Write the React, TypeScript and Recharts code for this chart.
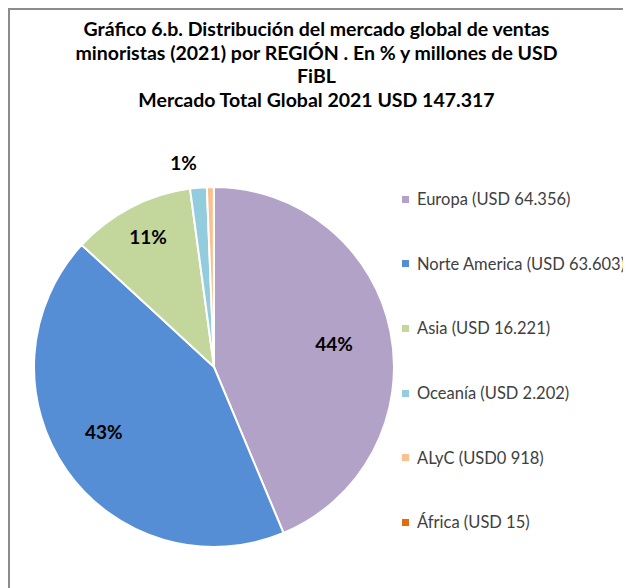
import React from "react";
import { PieChart, Pie, Cell, Legend } from "recharts";

const regions = ["Europa", "Norte America", "Asia", "Oceanía", "ALyC", "África"];
const values = [64356, 63603, 16221, 2202, 918, 15];
const legendLabels = [
  "Europa (USD 64.356)",
  "Norte America (USD 63.603)",
  "Asia (USD 16.221)",
  "Oceanía (USD 2.202)",
  "ALyC (USD0 918)",
  "África (USD 15)",
];
const colors = ["#b3a2c7", "#558ed5", "#c3d69b", "#93cddd", "#fac090", "#e46c0a"];
const titleLines = [
  "Gráfico 6.b. Distribución del mercado global de ventas",
  "minoristas (2021) por REGIÓN . En % y millones de USD",
  "FiBL",
  "Mercado Total Global 2021 USD 147.317",
];

const data = regions.map((name, i) => ({ name, value: values[i], legend: legendLabels[i] }));

const FONT = "Lato, 'Open Sans', sans-serif";
const RAD = Math.PI / 180;
const rFactor = [0.68, 0.71, 0.81, 1.15];
const angleDelta = [-0.2, -4.5, -0.6, 3.5];

const renderLabel = (props: any) => {
  const { cx, cy, midAngle, outerRadius, index, percent } = props;
  if (index > 3) return null;
  const r = outerRadius * rFactor[index];
  const a = (midAngle + angleDelta[index]) * RAD;
  const x = cx + r * Math.cos(-a);
  const y = cy + r * Math.sin(-a);
  return (
    <text
      x={x}
      y={y}
      textAnchor="middle"
      dominantBaseline="central"
      fill="#000"
      fontFamily={FONT}
      fontWeight={700}
      fontSize={19}
    >
      {Math.round(percent * 100) + "%"}
    </text>
  );
};

const renderLegend = () => (
  <div style={{ fontFamily: FONT }}>
    {data.map((d, i) => (
      <div
        key={d.name}
        style={{ height: 64.6, display: "flex", alignItems: "center" }}
      >
        <span
          style={{
            display: "inline-block",
            width: 7,
            height: 7,
            background: colors[i],
            marginRight: 8,
            flexShrink: 0,
          }}
        />
        <span style={{ fontSize: 16.5, color: "#404040", whiteSpace: "nowrap" }}>{d.legend}</span>
      </div>
    ))}
  </div>
);

export default function App() {
  return (
    <div
      style={{
        position: "relative",
        width: 621,
        height: 578,
        borderTop: "2px solid #8c8c8c",
        borderLeft: "2px solid #8c8c8c",
        background: "#fff",
        overflow: "hidden",
      }}
    >
      <div
        style={{
          position: "absolute",
          left: 0,
          top: 7,
          width: 613,
          textAlign: "center",
          fontFamily: FONT,
          fontWeight: 700,
          fontSize: 19.5,
          lineHeight: "23.5px",
          color: "#000",
        }}
      >
        {titleLines.map((l) => (
          <div key={l}>{l}</div>
        ))}
      </div>
      <div style={{ position: "absolute", left: 0, top: 0 }}>
        <PieChart width={621} height={570} margin={{ top: 0, right: 0, bottom: 0, left: 0 }}>
          <Pie
            data={data}
            dataKey="value"
            nameKey="name"
            cx={204}
            cy={357}
            outerRadius={180}
            startAngle={90}
            endAngle={-270}
            stroke="#fff"
            strokeWidth={2}
            label={renderLabel}
            labelLine={false}
            isAnimationActive={false}
          >
            {data.map((d, i) => (
              <Cell key={d.name} fill={colors[i]} />
            ))}
          </Pie>
          <Legend
            content={renderLegend}
            layout="vertical"
            wrapperStyle={{ left: 392, top: 157, width: 229 }}
          />
        </PieChart>
      </div>
    </div>
  );
}
